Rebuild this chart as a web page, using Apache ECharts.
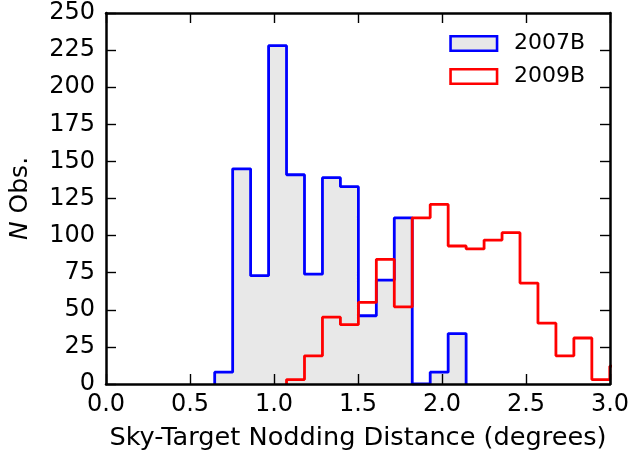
<!DOCTYPE html>
<html>
<head>
<meta charset="utf-8">
<script src="https://cdn.jsdelivr.net/npm/echarts@6/dist/echarts.min.js"></script>
<style>
  html, body { margin: 0; padding: 0; background: #fff; overflow: hidden; }
  #chart { width: 633px; height: 456px; }
</style>
</head>
<body>
<div id="chart"></div>
<script>
// Shared histogram binning (degrees)
const binStart = 0.647;
const binWidth = 0.1069;

// Counts per bin; each series starts at the given bin index
const obs2007B = [8, 145, 73, 228, 141, 74, 139, 133, 46, 70, 112, 0, 8, 34];
const start2007B = 0;
const obs2009B = [3, 19, 45, 40, 55, 84, 52, 112, 121, 93, 91, 97, 102, 68, 41, 19, 31, 3, 12];
const start2009B = 4;

const seriesNames = ['2007B', '2009B'];
const xTicks = { min: 0, max: 3, step: 0.5 };
const yTicks = { min: 0, max: 250, step: 25 };

// Step outline of a histogram: [edge, count] points drawn with step 'end'
function stepOutline(counts, firstBin) {
  const pts = [];
  const e0 = binStart + firstBin * binWidth;
  pts.push([e0, 0]);
  counts.forEach((c, i) => pts.push([binStart + (firstBin + i) * binWidth, c]));
  pts.push([binStart + (firstBin + counts.length) * binWidth, 0]);
  return pts;
}

const FONT = 'DejaVu Sans';
const chart = echarts.init(document.getElementById('chart'), null, { renderer: 'canvas' });

const axisCommon = {
  type: 'value',
  z: 10,
  splitLine: { show: false },
  axisLine: { show: true, onZero: false, lineStyle: { color: '#000', width: 2.5 } },
  axisTick: { show: true, inside: true, length: 10, lineStyle: { color: '#000', width: 1.4 } }
};

chart.setOption({
  animation: false,
  backgroundColor: '#fff',
  grid: { left: 101, right: 23, top: 13, bottom: 70, containLabel: false },
  legend: {
    orient: 'vertical',
    left: 449.25,
    top: 32.5,
    padding: 0,
    icon: 'rect',
    itemWidth: 46.5,
    itemHeight: 14.5,
    itemGap: 11,
    textStyle: { fontFamily: FONT, fontSize: 22, lineHeight: 22, color: '#000', padding: [0, 0, 0, 12] },
    data: [
      { name: seriesNames[0], itemStyle: { color: '#e8e8e8', borderColor: '#0000ff', borderWidth: 2.6 } },
      { name: seriesNames[1], itemStyle: { color: '#ffffff', borderColor: '#ff0000', borderWidth: 2.6 } }
    ]
  },
  xAxis: [
    Object.assign({}, axisCommon, {
      position: 'bottom',
      min: xTicks.min, max: xTicks.max, interval: xTicks.step,
      axisLabel: { fontFamily: FONT, fontSize: 24, color: '#000', margin: 9,
        formatter: v => v.toFixed(1) },
      name: 'Sky-Target Nodding Distance (degrees)',
      nameLocation: 'middle',
      nameGap: 41,
      nameTextStyle: { fontFamily: FONT, fontSize: 25.6, color: '#000' }
    }),
    Object.assign({}, axisCommon, {
      position: 'top',
      min: xTicks.min, max: xTicks.max, interval: xTicks.step,
      axisLabel: { show: false }
    })
  ],
  yAxis: [
    Object.assign({}, axisCommon, {
      position: 'left',
      min: yTicks.min, max: yTicks.max, interval: yTicks.step,
      axisLabel: { fontFamily: FONT, fontSize: 24, color: '#000', margin: 11 },
      name: '{i|N} Obs.',
      nameLocation: 'middle',
      nameRotate: 90,
      nameGap: 73,
      nameTextStyle: {
        fontFamily: FONT, fontSize: 25, color: '#000',
        rich: { i: { fontFamily: FONT, fontSize: 25, fontStyle: 'italic', color: '#000' } }
      }
    }),
    Object.assign({}, axisCommon, {
      position: 'right',
      min: yTicks.min, max: yTicks.max, interval: yTicks.step,
      axisLabel: { show: false }
    })
  ],
  series: [
    {
      name: seriesNames[0],
      type: 'line',
      step: 'end',
      showSymbol: false,
      clip: true,
      z: 2,
      data: stepOutline(obs2007B, start2007B),
      itemStyle: { color: '#0000ff' },
      lineStyle: { color: '#0000ff', width: 2.8 },
      areaStyle: { color: '#e8e8e8', opacity: 1 }
    },
    {
      name: seriesNames[1],
      type: 'line',
      step: 'end',
      showSymbol: false,
      clip: true,
      z: 3,
      data: stepOutline(obs2009B, start2009B),
      itemStyle: { color: '#ff0000' },
      lineStyle: { color: '#ff0000', width: 2.8 }
    }
  ]
});
</script>
</body>
</html>
